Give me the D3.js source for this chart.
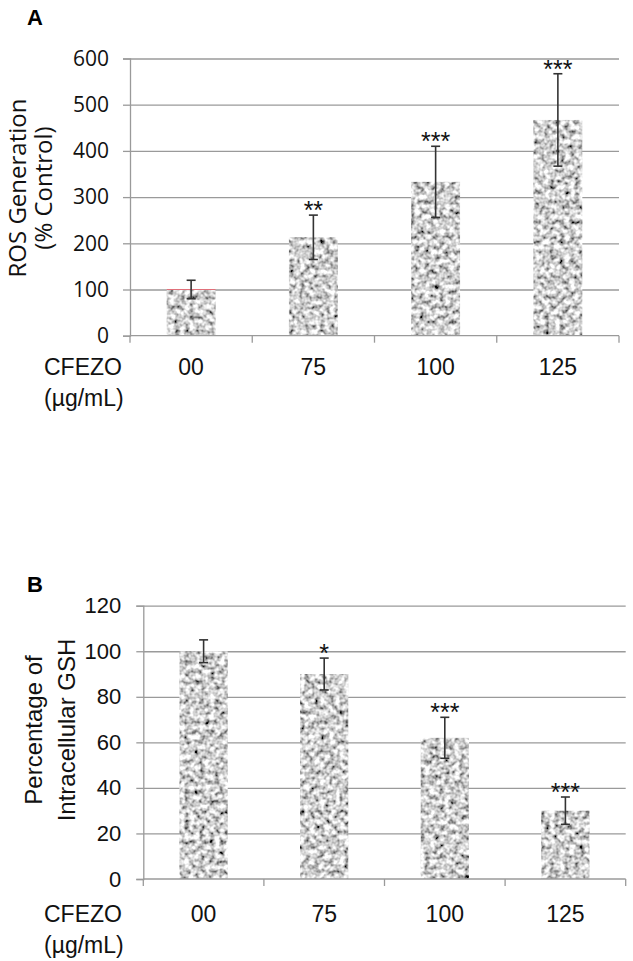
<!DOCTYPE html>
<html><head><meta charset="utf-8">
<script src="https://cdn.jsdelivr.net/npm/d3@7"></script>
<style>
html,body{margin:0;padding:0;background:#fff;}
svg{display:block;}
</style></head>
<body>
<script>
// ---- data ----
const categories = ["00", "75", "100", "125"];
const rosValues = [100, 213, 333, 467];
const rosErrors = [20, 48, 77, 100];
const rosSig = ["", "**", "***", "***"];
const rosTicks = [0, 100, 200, 300, 400, 500, 600];
const gshValues = [100, 90, 62, 30];
const gshErrors = [5, 7, 9, 6];
const gshSig = ["", "*", "***", "***"];
const gshTicks = [0, 20, 40, 60, 80, 100, 120];

const W = 633, H = 961;
const svg = d3.select("body").append("svg").attr("width", W).attr("height", H);

const defs = svg.append("defs");
const f = defs.append("filter").attr("id", "speckle")
  .attr("x", 0).attr("y", 0).attr("width", 1).attr("height", 1)
  .attr("filterUnits", "objectBoundingBox");
f.append("feTurbulence").attr("type", "fractalNoise").attr("baseFrequency", 0.2)
  .attr("numOctaves", 2).attr("seed", 11).attr("result", "noise");
f.append("feColorMatrix").attr("in", "noise").attr("type", "matrix")
  .attr("values", "1.9 0 0 0 -0.32  1.9 0 0 0 -0.32  1.9 0 0 0 -0.32  0 0 0 0 1")
  .attr("result", "gray");
f.append("feComposite").attr("in", "gray").attr("in2", "SourceGraphic").attr("operator", "in");

const ARIAL = "'Liberation Sans', Arial, sans-serif";
const OPEN = "'Open Sans', sans-serif";
const GRID = "#9a9a9a";

function panel(cfg) {
  const g = svg.append("g");
  const x = d3.scaleBand().domain(categories).range([cfg.x0, cfg.x1])
    .paddingInner(0.6).paddingOuter(0.3);
  const y = d3.scaleLinear().domain([0, cfg.ymax]).range([cfg.y0, cfg.y1]);

  // gridlines + y axis
  const ya = g.append("g").attr("transform", `translate(${cfg.x0},0)`)
    .call(d3.axisLeft(y).tickValues(cfg.ticks).tickSize(7).tickPadding(cfg.tickPad));
  ya.select(".domain").attr("stroke", GRID).attr("stroke-width", 1.3);
  ya.selectAll(".tick line").attr("stroke", GRID).attr("stroke-width", 1.3);
  ya.selectAll(".tick text").attr("font-family", cfg.tickFont).attr("font-size", cfg.tickSize).attr("fill", "#111");
  const grid = g.append("g").attr("transform", `translate(${cfg.x0},0)`)
    .call(d3.axisLeft(y).tickValues(cfg.ticks.filter(t => t > 0)).tickSize(-(cfg.x1 - cfg.x0)).tickFormat(""));
  grid.select(".domain").remove();
  grid.selectAll(".tick line").attr("stroke", GRID).attr("stroke-width", 1.3);

  // bars
  g.append("g").selectAll("rect").data(cfg.values).join("rect")
    .attr("x", (d, i) => x(categories[i]))
    .attr("y", d => y(d))
    .attr("width", x.bandwidth())
    .attr("height", d => y(0) - y(d))
    .attr("fill", "#a0a0a0")
    .attr("filter", "url(#speckle)");

  if (cfg.redTop) {
    g.append("line")
      .attr("x1", x(categories[0])).attr("x2", x(categories[0]) + x.bandwidth())
      .attr("y1", y(cfg.values[0])).attr("y2", y(cfg.values[0]))
      .attr("stroke", "#e0707a").attr("stroke-width", 1.2);
  }

  // x axis line and boundary ticks
  const xa = g.append("g");
  xa.append("line").attr("x1", cfg.x0).attr("x2", cfg.x1).attr("y1", y(0)).attr("y2", y(0))
    .attr("stroke", GRID).attr("stroke-width", 1.3);
  xa.selectAll("line.b").data(d3.range(categories.length + 1)).join("line").attr("class", "b")
    .attr("x1", i => cfg.x0 + i * x.step()).attr("x2", i => cfg.x0 + i * x.step())
    .attr("y1", y(0)).attr("y2", y(0) + 7)
    .attr("stroke", GRID).attr("stroke-width", 1.3);
  const cl = g.append("g").attr("transform", `translate(0,${y(0)})`)
    .call(d3.axisBottom(x).tickSize(0).tickPadding(0));
  cl.select(".domain").remove();
  cl.selectAll(".tick text").attr("dy", null).attr("y", cfg.catDy)
    .attr("font-family", ARIAL).attr("font-size", 23).attr("fill", "#111");

  // error bars
  const eb = g.append("g").attr("stroke", "#333").attr("stroke-width", 1.6);
  cfg.values.forEach((v, i) => {
    const cx = x(categories[i]) + x.bandwidth() / 2;
    const e = cfg.errors[i];
    eb.append("line").attr("x1", cx).attr("x2", cx).attr("y1", y(v + e)).attr("y2", y(v - e));
    eb.append("line").attr("x1", cx - 4.5).attr("x2", cx + 4.5).attr("y1", y(v + e)).attr("y2", y(v + e));
    eb.append("line").attr("x1", cx - 4.5).attr("x2", cx + 4.5).attr("y1", y(v - e)).attr("y2", y(v - e));
  });

  // significance stars
  g.append("g").selectAll("text").data(cfg.sig).join("text")
    .attr("x", (d, i) => x(categories[i]) + x.bandwidth() / 2)
    .attr("y", (d, i) => y(cfg.values[i] + cfg.errors[i]) + 4)
    .attr("text-anchor", "middle").attr("font-family", ARIAL).attr("font-size", 25)
    .attr("fill", "#111").text(d => d);

  // x axis title
  g.append("text").attr("x", 44).attr("y", y(0) + cfg.catDy).attr("font-family", ARIAL)
    .attr("font-size", 23).attr("fill", "#111").text("CFEZO");
  g.append("text").attr("x", 44).attr("y", y(0) + cfg.catDy + 31).attr("font-family", ARIAL)
    .attr("font-size", 23).attr("fill", "#111").text("(µg/mL)");

  // y title
  cfg.ytitle.forEach((t, i) => {
    g.append("text").attr("transform", `translate(${cfg.ytx[i]},${cfg.yty}) rotate(-90)`)
      .attr("text-anchor", "middle").attr("font-family", cfg.titleFont).attr("font-size", cfg.titleSize)
      .attr("fill", "#111").text(t);
  });

  // panel letter
  g.append("text").attr("x", cfg.lx).attr("y", cfg.ly).attr("font-family", ARIAL)
    .attr("font-weight", "bold").attr("font-size", 22).attr("fill", "#000").text(cfg.letter);
}

panel({
  x0: 130, x1: 619, y0: 335.7, y1: 58.5, ymax: 600, ticks: rosTicks,
  values: rosValues, errors: rosErrors, sig: rosSig, redTop: true,
  tickFont: OPEN, tickSize: 21, tickPad: 14, catDy: 39,
  ytitle: ["ROS Generation", "(% Control)"], ytx: [26, 52], yty: 188,
  titleFont: OPEN, titleSize: 24, letter: "A", lx: 27, ly: 25
});

panel({
  x0: 143.3, x1: 625.7, y0: 879, y1: 605.7, ymax: 120, ticks: gshTicks,
  values: gshValues, errors: gshErrors, sig: gshSig, redTop: false,
  tickFont: ARIAL, tickSize: 22, tickPad: 15, catDy: 42.5,
  ytitle: ["Percentage of", "Intracellular GSH"], ytx: [42, 75], yty: 730,
  titleFont: ARIAL, titleSize: 24, letter: "B", lx: 27, ly: 592
});
</script>
</body></html>
